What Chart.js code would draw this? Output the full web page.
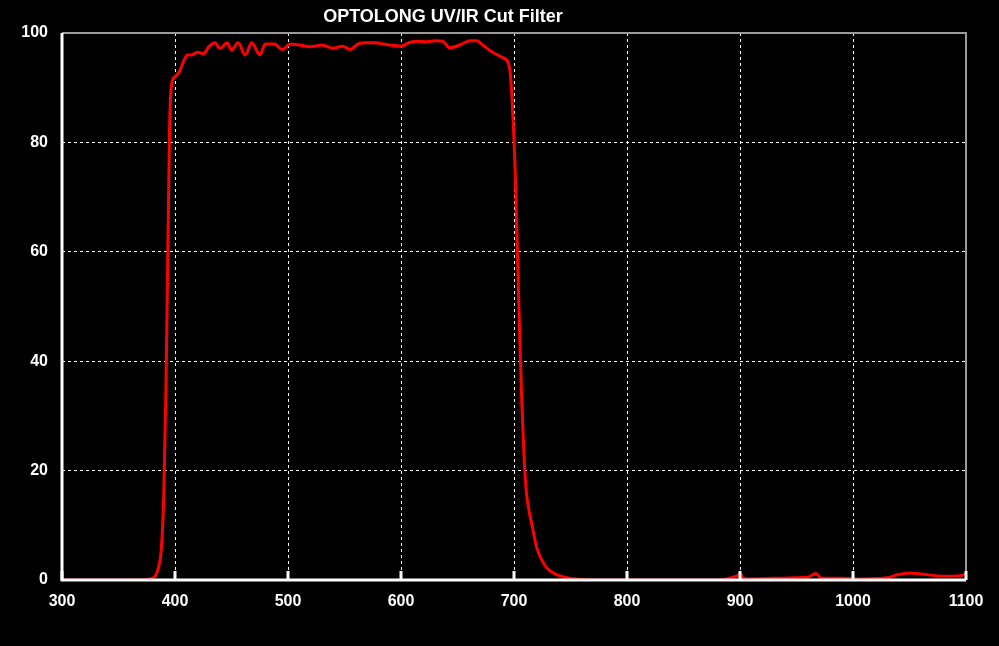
<!DOCTYPE html>
<html>
<head>
<meta charset="utf-8">
<script src="https://cdn.jsdelivr.net/npm/chart.js@4"></script>
<style>
  html, body { margin: 0; padding: 0; background: #000; }
  #wrap { width: 999px; height: 646px; }
</style>
</head>
<body>
<div id="wrap"><canvas id="filterChart"></canvas></div>
<script>
// Transmission curve (wavelength nm, transmission %)
const wavelengths = [300, 340, 370, 378, 382, 385, 388, 390, 392, 393, 394, 395, 396, 398, 400, 404, 408, 411, 415, 420, 425, 430, 435, 440, 446, 450, 456, 462, 468, 475, 480, 488, 495, 502, 510, 520, 530, 540, 548, 555, 562, 570, 578, 584, 590, 600, 608, 615, 622, 630, 637, 643, 652, 661, 667, 673, 681, 690, 695, 697, 699, 701, 703, 705, 707, 709, 711, 713, 716, 720, 725, 730, 740, 750, 760, 780, 880, 890, 895, 898, 900, 903, 910, 930, 950, 960, 967, 972, 990, 1010, 1030, 1040, 1050, 1060, 1080, 1095, 1100];
const transmission = [0, 0, 0, 0.2, 0.6, 2, 6, 15, 35, 50, 65, 80, 88, 91.5, 92, 93, 95, 96, 96, 96.5, 96.2, 97.5, 98.2, 97.2, 98.2, 96.9, 98.2, 96.0, 98.2, 96.0, 98, 98, 97, 98, 97.8, 97.5, 97.8, 97.2, 97.6, 97, 98, 98.2, 98.2, 98, 97.8, 97.6, 98.3, 98.5, 98.4, 98.6, 98.5, 97.3, 97.8, 98.6, 98.6, 97.7, 96.5, 95.5, 94.5, 92, 85, 75, 60, 45, 32, 22, 16, 13, 10, 6, 3.5, 2, 0.8, 0.3, 0.1, 0, 0, 0.3, 0.6, 0.8, 1.2, 0.3, 0.2, 0.3, 0.4, 0.5, 1.2, 0.3, 0.3, 0.2, 0.4, 1.0, 1.3, 1.1, 0.7, 0.8, 1.1];
const xTicks = [300, 400, 500, 600, 700, 800, 900, 1000, 1100];
const yTicks = [0, 20, 40, 60, 80, 100];

const points = wavelengths.map((w, i) => ({ x: w, y: transmission[i] }));

const frame = {
  id: 'frame',
  afterDraw(chart) {
    const { ctx, chartArea: a } = chart;
    ctx.save();
    ctx.strokeStyle = '#9a9a9a';
    ctx.lineWidth = 2;
    ctx.beginPath();
    ctx.moveTo(a.left, a.top); ctx.lineTo(a.right, a.top); ctx.lineTo(a.right, a.bottom);
    ctx.stroke();
    ctx.strokeStyle = '#fff';
    ctx.lineWidth = 3;
    ctx.beginPath();
    ctx.moveTo(a.left, a.top); ctx.lineTo(a.left, a.bottom); ctx.lineTo(a.right, a.bottom);
    ctx.stroke();
    // short tick marks at the bottom
    ctx.lineWidth = 3;
    const xs = chart.scales.x;
    xTicks.forEach(v => {
      const px = xs.getPixelForValue(v);
      ctx.beginPath(); ctx.moveTo(px, a.bottom); ctx.lineTo(px, a.bottom - 9); ctx.stroke();
    });
    ctx.fillStyle = '#fff';
    ctx.font = 'bold 18px Arial, "Liberation Sans"';
    ctx.textAlign = 'center';
    ctx.textBaseline = 'middle';
    ctx.fillText('OPTOLONG UV/IR Cut Filter', 443, 17);
    ctx.restore();
  }
};

const tickFont = { family: 'Arial, "Liberation Sans"', size: 16, weight: 'bold' };

new Chart(document.getElementById('filterChart'), {
  type: 'line',
  data: {
    datasets: [{
      data: points,
      borderColor: '#ff0000',
      borderWidth: 3,
      pointRadius: 0,
      cubicInterpolationMode: 'monotone',
      fill: false
    }]
  },
  options: {
    responsive: true,
    maintainAspectRatio: false,
    animation: false,
    layout: { padding: { top: 33, right: 33, left: 0, bottom: 0 } },
    plugins: { legend: { display: false }, tooltip: { enabled: false } },
    scales: {
      x: {
        type: 'linear', min: 300, max: 1100,
        afterBuildTicks: s => { s.ticks = xTicks.map(v => ({ value: v })); },
        afterFit: s => { s.height = 66; },
        grid: { color: '#fff', drawTicks: false },
        border: { display: false, dash: [3, 3] },
        ticks: { color: '#fff', font: tickFont, padding: 12, maxRotation: 0, callback: v => String(v) }
      },
      y: {
        min: 0, max: 100,
        afterBuildTicks: s => { s.ticks = yTicks.map(v => ({ value: v })); },
        afterFit: s => { s.width = 62; },
        grid: { color: '#fff', drawTicks: false },
        border: { display: false, dash: [3, 3] },
        ticks: { color: '#fff', font: tickFont, padding: 14, callback: v => String(v) }
      }
    }
  },
  plugins: [frame]
});
</script>
</body>
</html>
